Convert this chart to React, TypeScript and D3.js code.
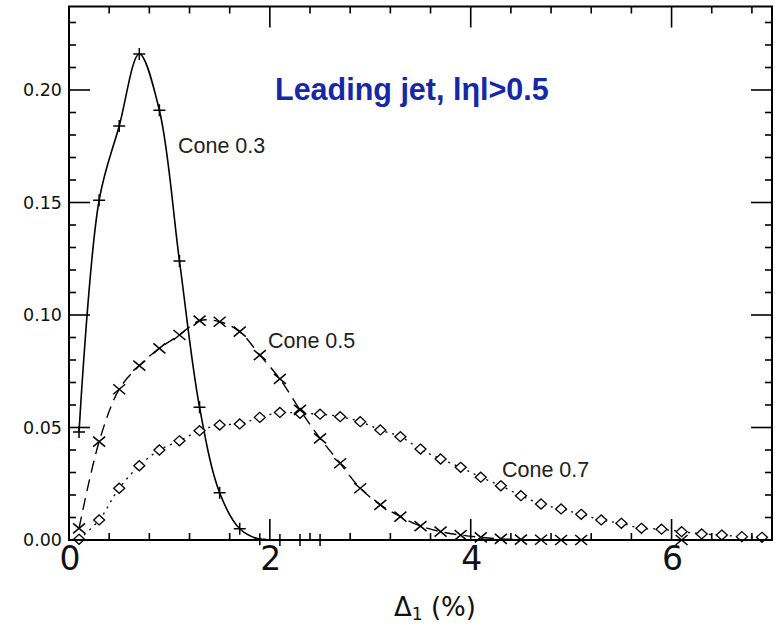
import React from "react";
import * as d3 from "d3";

const cone03X = [0.1, 0.3, 0.5, 0.7, 0.9, 1.1, 1.3, 1.5, 1.7, 1.9, 2.1, 2.3, 2.5];
const cone03Y = [0.048, 0.151, 0.184, 0.216, 0.191, 0.124, 0.059, 0.021, 0.005, 0.0003, 0, 0, 0];

const cone05X = [0.1, 0.3, 0.5, 0.7, 0.9, 1.1, 1.3, 1.5, 1.7, 1.9, 2.1, 2.3, 2.5, 2.7, 2.9, 3.1, 3.3, 3.5, 3.7, 3.9, 4.1, 4.3, 4.5, 4.7, 4.9, 5.1, 6.1];
const cone05Y = [0.0052, 0.0437, 0.067, 0.0775, 0.0852, 0.0911, 0.0975, 0.097, 0.0926, 0.0822, 0.0716, 0.0578, 0.0452, 0.0341, 0.023, 0.0156, 0.0104, 0.0062, 0.0037, 0.0022, 0.0012, 0.0005, 0.0002, 0.0001, 0, 0, 0];

const cone07X = [0.1, 0.3, 0.5, 0.7, 0.9, 1.1, 1.3, 1.5, 1.7, 1.9, 2.1, 2.3, 2.5, 2.7, 2.9, 3.1, 3.3, 3.5, 3.7, 3.9, 4.1, 4.3, 4.5, 4.7, 4.9, 5.1, 5.3, 5.5, 5.7, 5.9, 6.1, 6.3, 6.5, 6.7, 6.9];
const cone07Y = [0.0003, 0.0089, 0.023, 0.033, 0.04, 0.0441, 0.0486, 0.0511, 0.0516, 0.0545, 0.0567, 0.0563, 0.0559, 0.0548, 0.0526, 0.0489, 0.0459, 0.0404, 0.036, 0.0323, 0.0279, 0.0241, 0.0197, 0.016, 0.0138, 0.0114, 0.0089, 0.0074, 0.0052, 0.0048, 0.0037, 0.0027, 0.0022, 0.0015, 0.0012];

const xTickValues = [0, 2, 4, 6];
const xTickLabels = ["0", "2", "4", "6"];
const yTickValues = [0, 0.05, 0.1, 0.15, 0.2];
const yTickLabels = ["0.00", "0.05", "0.10", "0.15", "0.20"];

const seriesLabels = ["Cone 0.3", "Cone 0.5", "Cone 0.7"];
const titleText = "Leading jet, lηl>0.5";

const W = 775;
const H = 627;
const L = 69;
const R = 772;
const T = 6.5;
const B = 540;

export default function App() {
  const x = d3.scaleLinear().domain([0, 7]).range([L, R]);
  const y = d3.scaleLinear().domain([0, (B - T) / 2250]).range([B, T]);

  const mk = (xs: number[], ys: number[]) => xs.map((v, i) => [v, ys[i]] as [number, number]);
  const s03 = mk(cone03X, cone03Y);
  const s05 = mk(cone05X, cone05Y);
  const s07 = mk(cone07X, cone07Y);

  const line = d3
    .line<[number, number]>()
    .x((d) => x(d[0]))
    .y((d) => y(d[1]))
    .curve(d3.curveCatmullRom.alpha(0.5));

  const xMinor = d3.range(0.4, 7, 0.4).filter((v) => Math.abs(v / 2 - Math.round(v / 2)) > 1e-6);
  const yMinor = d3.range(1, 24).map((i) => i / 100).filter((v) => i5(v));
  function i5(v: number) {
    return Math.abs(v / 0.05 - Math.round(v / 0.05)) > 1e-6;
  }
  const MAJ = 21;
  const MIN = 7;
  const tickStroke = { stroke: "#000", strokeWidth: 1.6 };

  const plus = (cx: number, cy: number, k: string) => (
    <path key={k} d={`M${cx - 6},${cy}H${cx + 6}M${cx},${cy - 6}V${cy + 6}`} stroke="#000" strokeWidth={1.5} fill="none" />
  );
  const cross = (cx: number, cy: number, k: string) => (
    <path key={k} d={`M${cx - 6},${cy - 5}L${cx + 6},${cy + 5}M${cx - 6},${cy + 5}L${cx + 6},${cy - 5}`} stroke="#000" strokeWidth={1.5} fill="none" />
  );
  const diamond = (cx: number, cy: number, k: string) => (
    <path key={k} d={`M${cx},${cy - 5}L${cx + 5.5},${cy}L${cx},${cy + 5}L${cx - 5.5},${cy}Z`} stroke="#000" strokeWidth={1.3} fill="#fff" />
  );

  return (
    <svg width={W} height={H} style={{ position: "absolute", left: 0, top: 0, background: "#fff" }}>
      <rect x={0} y={0} width={W} height={H} fill="#fff" />
      {/* curves */}
      <path d={line(s07) || ""} fill="none" stroke="#000" strokeWidth={1.3} strokeDasharray="2,5" />
      <path d={line(s05) || ""} fill="none" stroke="#000" strokeWidth={1.4} strokeDasharray="12,7" />
      <path d={line(s03) || ""} fill="none" stroke="#000" strokeWidth={1.6} />
      {/* markers */}
      {s07.map((d, i) => diamond(x(d[0]), y(d[1]), "d" + i))}
      {s05.map((d, i) => cross(x(d[0]), y(d[1]), "c" + i))}
      {s03.map((d, i) => plus(x(d[0]), y(d[1]), "p" + i))}

      {/* frame */}
      <rect x={L} y={T} width={R - L} height={B - T} fill="none" stroke="#000" strokeWidth={2} />

      {/* x ticks */}
      {xTickValues.filter((v) => v > 0).map((v) => (
        <g key={"xM" + v}>
          <line x1={x(v)} x2={x(v)} y1={B} y2={B - MAJ} {...tickStroke} />
          <line x1={x(v)} x2={x(v)} y1={T} y2={T + MAJ} {...tickStroke} />
        </g>
      ))}
      {xMinor.map((v) => (
        <g key={"xm" + v}>
          <line x1={x(v)} x2={x(v)} y1={B} y2={B - MIN} {...tickStroke} />
          <line x1={x(v)} x2={x(v)} y1={T} y2={T + MIN} {...tickStroke} />
        </g>
      ))}
      {/* y ticks */}
      {yTickValues.filter((v) => v > 0).map((v) => (
        <g key={"yM" + v}>
          <line x1={L} x2={L + MAJ} y1={y(v)} y2={y(v)} {...tickStroke} />
          <line x1={R} x2={R - MAJ} y1={y(v)} y2={y(v)} {...tickStroke} />
        </g>
      ))}
      {yMinor.map((v) => (
        <g key={"ym" + v}>
          <line x1={L} x2={L + MIN} y1={y(v)} y2={y(v)} {...tickStroke} />
          <line x1={R} x2={R - MIN} y1={y(v)} y2={y(v)} {...tickStroke} />
        </g>
      ))}

      {/* tick labels */}
      {yTickValues.map((v, i) => (
        <text key={"yl" + i} x={62} y={y(v)} dy="0.36em" textAnchor="end" fontFamily="DejaVu Sans" fontSize={17.5} fill="#111">
          {yTickLabels[i]}
        </text>
      ))}
      {xTickValues.map((v, i) => (
        <text key={"xl" + i} x={x(v) + 1} y={570} textAnchor="middle" fontFamily="DejaVu Sans" fontSize={33} fill="#111">
          {xTickLabels[i]}
        </text>
      ))}

      {/* axis title */}
      <text x={394} y={616} fontFamily="DejaVu Sans" fontSize={26} fill="#111">
        <tspan>Δ</tspan>
        <tspan fontSize={17} dy={4}>1</tspan>
        <tspan dy={-4}> (%)</tspan>
      </text>

      {/* series labels */}
      <text x={178} y={153} fontFamily="Liberation Sans, Arial" fontSize={21.5} fill="#222">{seriesLabels[0]}</text>
      <text x={268} y={348} fontFamily="Liberation Sans, Arial" fontSize={21.5} fill="#222">{seriesLabels[1]}</text>
      <text x={502} y={477} fontFamily="Liberation Sans, Arial" fontSize={21.5} fill="#222">{seriesLabels[2]}</text>

      {/* title */}
      <text x={275} y={100} fontFamily="Liberation Sans, Arial" fontWeight="bold" fontSize={30.5} fill="#1428a8">
        {titleText}
      </text>
    </svg>
  );
}
